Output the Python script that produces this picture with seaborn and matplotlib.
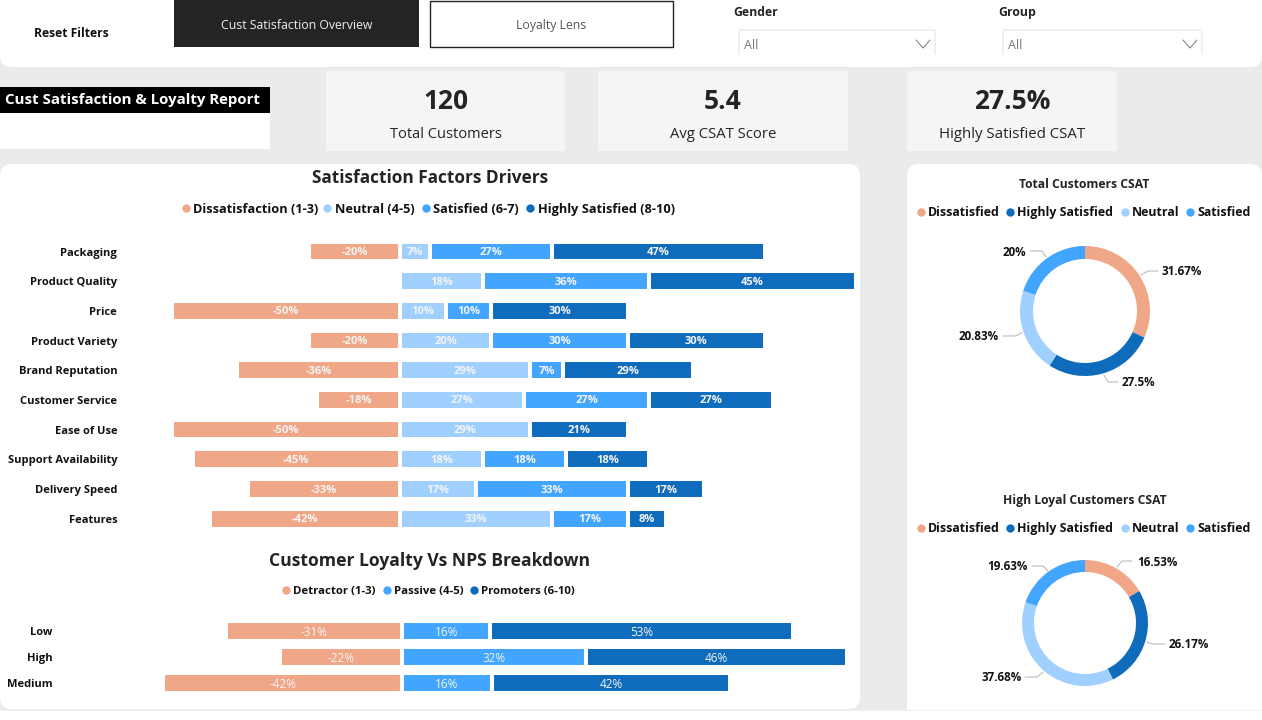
import numpy as np
import pandas as pd
import matplotlib
matplotlib.use("Agg")
import matplotlib.pyplot as plt
from matplotlib.patches import FancyBboxPatch, Rectangle
import seaborn as sns

# Data
factors = ["Packaging", "Product Quality", "Price", "Product Variety", "Brand Reputation",
           "Customer Service", "Ease of Use", "Support Availability", "Delivery Speed", "Features"]
dissatisfied = [-20, 0, -50, -20, -35.71, -18.18, -50, -45.45, -33.33, -41.67]
neutral = [6.67, 18.18, 10, 20, 28.57, 27.27, 28.57, 18.18, 16.67, 33.33]
satisfied = [26.67, 36.36, 10, 30, 7.14, 27.27, 0, 18.18, 33.33, 16.67]
highly = [46.67, 45.45, 30, 30, 28.57, 27.27, 21.43, 18.18, 16.67, 8.33]

loyalty = ["Low", "High", "Medium"]
detractor = [-31, -21.6, -42.1]
passive = [15.6, 32.4, 15.8]
promoters = [53.4, 46, 42.1]

donut_labels = ["Dissatisfied", "Highly Satisfied", "Neutral", "Satisfied"]
total_csat = [31.67, 27.5, 20.83, 20]
loyal_csat = [16.53, 26.17, 37.68, 19.63]

ORANGE = "#F0A787"
LIGHT = "#A0D0FF"
MID = "#42A5FF"
DARK = "#0F6CBD"
W, H = 1262, 720

sns.set_theme(style="white")
plt.rcParams["font.family"] = ["Open Sans", "DejaVu Sans"]

fig = plt.figure(figsize=(W / 100, H / 100), dpi=100, facecolor="#EBEBEB")


def px_axes(left, top, right, bottom, **kw):
    ax = fig.add_axes([left / W, 1 - bottom / H, (right - left) / W, (bottom - top) / H], **kw)
    ax.patch.set_alpha(0)
    return ax


# background layer in pixel coordinates for panels, cards and all loose text
bg = px_axes(0, 0, W, H)
bg.set_xlim(0, W)
bg.set_ylim(H, 0)
bg.axis("off")


def panel(x0, y0, x1, y1, color="white", r=12):
    bg.add_patch(FancyBboxPatch((x0 + r, y0 + r), x1 - x0 - 2 * r, y1 - y0 - 2 * r,
                                boxstyle=f"round,pad={r},rounding_size={r}",
                                fc=color, ec="none"))


def txt(x, y, s, size=10, weight="normal", color="#111111", ha="left"):
    # y is the middle of the capitals, so descenders do not shift the line
    bg.text(x, y + 0.49 * size, s, fontsize=size, fontweight=weight, color=color, ha=ha, va="baseline")


def legend(y, dots, starts, labels, colors, size=9):
    for dx, sx, lab, col in zip(dots, starts, labels, colors):
        bg.plot(dx, y, "o", ms=6, color=col, mew=0)
        txt(sx, y, lab, size=size, weight="bold", color="#111111")


panel(0, -20, W, 67)
panel(0, 164, 860, 709)
panel(907, 164, W, 740)
bg.add_patch(Rectangle((0, 710), W, 10, fc="white", ec="none"))
bg.plot([0, W], [709.5, 709.5], color="#F0F0F0", lw=0.7)

# top bar
txt(34, 33, "Reset Filters", size=8.7, weight="bold")
bg.add_patch(Rectangle((174, -2), 245, 49, fc="#252423", ec="none"))
txt(296.5, 24.5, "Cust Satisfaction Overview", size=8.8, color="#F0F0F0", ha="center")
bg.add_patch(Rectangle((429.5, 0.5), 243, 46, fc="white", ec="#252423", lw=1))
txt(551, 24.5, "Loyalty Lens", size=8.8, color="#555555", ha="center")
txt(733, 12, "Gender", size=8.8, weight="bold", color="#252423")
txt(998, 12, "Group", size=8.8, weight="bold", color="#252423")
for x0, x1 in [(739, 935), (1003, 1202)]:
    bg.plot([x0, x0, x1, x1], [54, 30, 30, 54], color="#EDEDED", lw=1.2)
    txt(x0 + 5, 45, "All", size=9, color="#777777")
    bg.plot([x1 - 19, x1 - 12, x1 - 5], [40, 48, 40], color="#777777", lw=0.7)

# title banner
bg.add_patch(Rectangle((0, 113), 270, 36, fc="white", ec="none"))
bg.add_patch(Rectangle((0, 87), 270, 26, fc="black", ec="none"))
txt(5, 99, "Cust Satisfaction & Loyalty Report", size=10.8, weight="bold", color="white")

# KPI cards
for x0, x1, big, small, small_size in [(326, 565, "120", "Total Customers", 10.5),
                                       (598, 848, "5.4", "Avg CSAT Score", 10.7),
                                       (907, 1117, "27.5%", "Highly Satisfied CSAT", 10.8)]:
    bg.add_patch(Rectangle((x0, 71), x1 - x0, 80, fc="#F5F5F5", ec="none"))
    cx = (x0 + x1) / 2
    txt(cx, 100, big, size=19, weight="bold", color="#252423", ha="center")
    txt(cx, 133, small, size=small_size, color="#252423", ha="center")

# satisfaction drivers
txt(430, 177, "Satisfaction Factors Drivers", size=12.4, weight="bold", color="#252423", ha="center")
legend(208, [186, 327, 426, 530], [193, 335, 433, 538],
       ["Dissatisfaction (1-3)", "Neutral (4-5)", "Satisfied (6-7)", "Highly Satisfied (8-10)"],
       [ORANGE, LIGHT, MID, DARK], size=9.2)

ax = px_axes(120, 236.7, 858, 533.4)


def stacked(ax, cats, neg, pos_series, colors, bar_w, label_size, label_weight):
    frame = pd.DataFrame({"cat": cats, "val": neg})
    sns.barplot(data=frame, x="val", y="cat", color=colors[0], saturation=1, width=bar_w,
                edgecolor="white", linewidth=2.9, errorbar=None, ax=ax)
    left = np.zeros(len(cats))
    for vals, col in zip(pos_series, colors[1:]):
        frame = pd.DataFrame({"cat": cats, "val": vals})
        sns.barplot(data=frame, x="val", y="cat", left=left, color=col, saturation=1, width=bar_w,
                    edgecolor="white", linewidth=2.9, errorbar=None, ax=ax)
        left = left + np.array(vals)
    for cont, vals in zip(ax.containers, [neg] + pos_series):
        labs = ax.bar_label(cont, labels=[f"{v:.0f}%" if v else "" for v in vals], label_type="center",
                            color="#F4F4F4", fontsize=label_size, fontweight=label_weight)
        for lab in labs:
            lab.xyann = (0, -0.8)
    ax.set_xlabel("")
    ax.set_ylabel("")
    ax.set_xticks([])
    ax.tick_params(axis="y", length=0, pad=2)
    sns.despine(ax=ax, left=True, bottom=True)


stacked(ax, factors, dissatisfied, [neutral, satisfied, highly], [ORANGE, LIGHT, MID, DARK], 0.67, 8, "bold")
ax.set_xlim((120 - 400) / 4.56, (858 - 400) / 4.56)
ax.set_ylim(9.5, -0.5)
for lab in ax.get_yticklabels():
    lab.set_fontsize(8)
    lab.set_fontweight("bold")
    lab.set_color("#111111")

# loyalty vs NPS
txt(430, 560, "Customer Loyalty Vs NPS Breakdown", size=12.6, weight="bold", color="#252423", ha="center")
legend(590, [286, 387, 474], [293, 393.5, 481],
       ["Detractor (1-3)", "Passive (4-5)", "Promoters (6-10)"], [ORANGE, MID, DARK], size=8.2)

ax2 = px_axes(55, 618, 858, 696)
stacked(ax2, loyalty, detractor, [passive, promoters], [ORANGE, MID, DARK], 0.77, 8.5, "normal")
ax2.set_xlim((55 - 402) / 5.67, (858 - 402) / 5.67)
ax2.set_ylim(2.5, -0.5)
for lab in ax2.get_yticklabels():
    lab.set_fontsize(8)
    lab.set_fontweight("bold")
    lab.set_color("#111111")


# donuts
def donut(cx, cy, outer, inner, values):
    r_ax = px_axes(cx - outer, cy - outer, cx + outer, cy + outer)
    r_ax.pie(values, colors=[ORANGE, DARK, LIGHT, MID], startangle=90, counterclock=False,
             radius=1, wedgeprops={"width": (outer - inner) / outer, "linewidth": 0})
    r_ax.set_xlim(-1, 1)
    r_ax.set_ylim(-1, 1)


def callouts(items, values):
    for (pts, tx, ty, ha), v in zip(items, values):
        bg.plot([p[0] for p in pts], [p[1] for p in pts], color="#BBBBBB", lw=0.8)
        txt(tx, ty, f"{v:g}%", size=8.4, weight="bold", ha=ha)


txt(1084, 184, "Total Customers CSAT", size=8.7, weight="bold", color="#252423", ha="center")
legend(212, [921, 1010, 1125, 1190], [928, 1017, 1132, 1197], donut_labels, [ORANGE, DARK, LIGHT, MID], size=8.9)
donut(1085, 311, 65, 52, total_csat)
callouts([([(1141, 275), (1148, 271), (1158, 271)], 1162, 271, "left"),
          ([(1104, 375), (1108, 382), (1118, 382)], 1122, 382, "left"),
          ([(1022, 333), (1015, 336), (1003, 336)], 999, 336, "right"),
          ([(1046, 257), (1042, 251), (1030, 251)], 1026, 252, "right")], total_csat)

txt(1085, 500, "High Loyal Customers CSAT", size=8.7, weight="bold", color="#252423", ha="center")
legend(528, [921, 1010, 1125, 1190], [928, 1017, 1132, 1197], donut_labels, [ORANGE, DARK, LIGHT, MID], size=8.9)
donut(1085, 623, 63, 51, loyal_csat)
callouts([([(1117, 567), (1122, 561), (1132, 561)], 1137, 562, "left"),
          ([(1147, 642), (1152, 644), (1165, 644)], 1169, 644, "left"),
          ([(1043, 672), (1037, 677), (1025, 677)], 1022, 677, "right"),
          ([(1048, 571), (1043, 566), (1032, 566)], 1028, 566, "right")], loyal_csat)

fig.savefig("out.png", dpi=100, facecolor=fig.get_facecolor())
